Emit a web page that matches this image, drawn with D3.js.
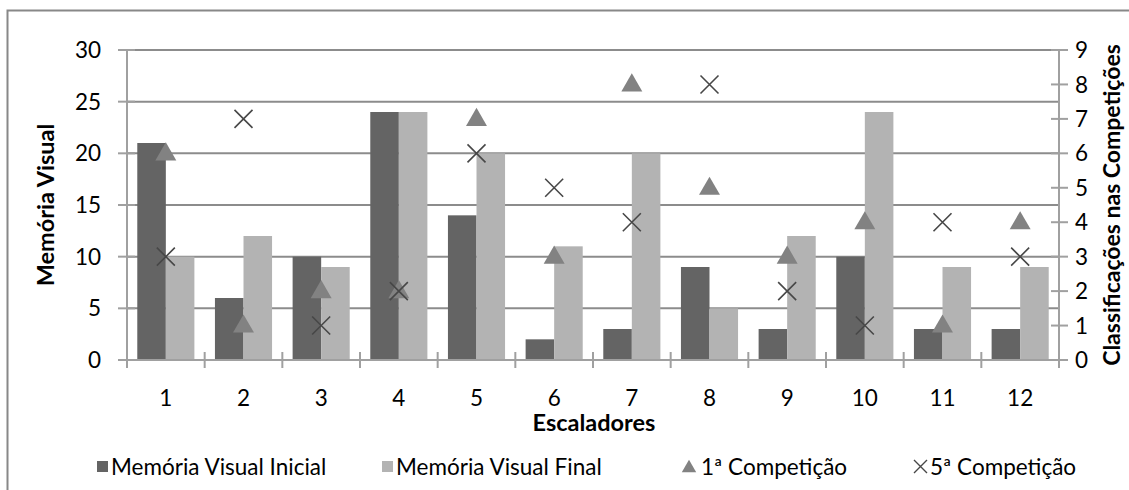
<!DOCTYPE html>
<html>
<head>
<meta charset="utf-8">
<script src="https://cdn.jsdelivr.net/npm/d3@7"></script>
<style>
  html, body { margin: 0; padding: 0; background: #fff; }
  svg { display: block; }
  text { font-family: Lato, "Open Sans", sans-serif; fill: #000; }
</style>
</head>
<body>
<svg id="chart" width="1129" height="490"></svg>
<script>
// Escaladores e respetivos resultados
const escaladores = ["1", "2", "3", "4", "5", "6", "7", "8", "9", "10", "11", "12"];
const memoriaInicial = [21, 6, 10, 24, 14, 2, 3, 9, 3, 10, 3, 3];
const memoriaFinal = [10, 12, 9, 24, 20, 11, 20, 5, 12, 24, 9, 9];
const competicao1 = [6, 1, 2, 2, 7, 3, 8, 5, 3, 4, 1, 4];
const competicao5 = [3, 7, 1, 2, 6, 5, 4, 8, 2, 1, 4, 3];
const leftTicks = [0, 5, 10, 15, 20, 25, 30];
const rightTicks = [0, 1, 2, 3, 4, 5, 6, 7, 8, 9];

const svg = d3.select("#chart");
const plot = { left: 127, right: 1059, top: 50, bottom: 360 };
const fs = "22.5px";

const colInicial = "#646464", colFinal = "#b3b3b3", colTri = "#828282", colX = "#474747";
const gridCol = "#8c8c8c", axisCol = "#a0a0a0";

// outer chart border
svg.append("rect").attr("x", 7.5).attr("y", 10.5).attr("width", 1140).attr("height", 500)
  .attr("fill", "none").attr("stroke", "#888").attr("stroke-width", 2);

const x = d3.scaleBand().domain(escaladores).range([plot.left, plot.right]);
const inner = d3.scaleBand().domain(["i", "f"]).range([0, x.bandwidth()]).paddingOuter(0.36).paddingInner(0);
const yL = d3.scaleLinear().domain([0, 30]).range([plot.bottom, plot.top]);
const yR = d3.scaleLinear().domain([0, 9]).range([plot.bottom, plot.top]);

// gridlines
svg.append("g").selectAll("line").data(leftTicks.filter(d => d > 0)).join("line")
  .attr("x1", plot.left).attr("x2", plot.right)
  .attr("y1", d => yL(d)).attr("y2", d => yL(d))
  .attr("stroke", gridCol).attr("stroke-width", 2);

// bars
const bars = svg.append("g");
bars.selectAll("rect.ini").data(memoriaInicial).join("rect")
  .attr("x", (d, i) => x(escaladores[i]) + inner("i"))
  .attr("y", d => yL(d)).attr("width", inner.bandwidth())
  .attr("height", d => yL(0) - yL(d)).attr("fill", colInicial);
bars.selectAll("rect.fin").data(memoriaFinal).join("rect")
  .attr("x", (d, i) => x(escaladores[i]) + inner("f"))
  .attr("y", d => yL(d)).attr("width", inner.bandwidth())
  .attr("height", d => yL(0) - yL(d)).attr("fill", colFinal);

// axes
const axG = svg.append("g").attr("stroke", axisCol).attr("stroke-width", 2);
axG.append("line").attr("x1", plot.left).attr("x2", plot.left).attr("y1", plot.top).attr("y2", plot.bottom + 8);
axG.append("line").attr("x1", plot.right).attr("x2", plot.right).attr("y1", plot.top).attr("y2", plot.bottom + 8);
axG.append("line").attr("x1", plot.left - 9).attr("x2", plot.right + 9).attr("y1", plot.bottom).attr("y2", plot.bottom);
axG.selectAll("line.lt").data(leftTicks).join("line")
  .attr("x1", plot.left - 9).attr("x2", plot.left + 8).attr("y1", d => yL(d)).attr("y2", d => yL(d));
axG.selectAll("line.rt").data(rightTicks).join("line")
  .attr("x1", plot.right - 8).attr("x2", plot.right + 9).attr("y1", d => yR(d)).attr("y2", d => yR(d));
const bounds = escaladores.map(c => x(c)).concat([plot.right]);
axG.selectAll("line.xt").data(bounds).join("line")
  .attr("x1", d => d).attr("x2", d => d).attr("y1", plot.bottom - 8).attr("y2", plot.bottom + 8);

// tick labels
svg.append("g").selectAll("text").data(leftTicks).join("text")
  .attr("x", 101).attr("y", d => yL(d)).attr("dy", "0.36em")
  .attr("text-anchor", "end").style("font-size", fs).text(d => d);
svg.append("g").selectAll("text").data(rightTicks).join("text")
  .attr("x", 1075).attr("y", d => yR(d)).attr("dy", "0.36em")
  .attr("text-anchor", "start").style("font-size", fs).text(d => d);
svg.append("g").selectAll("text").data(escaladores).join("text")
  .attr("x", d => x(d) + x.bandwidth() / 2).attr("y", 398).attr("dy", "0.36em")
  .attr("text-anchor", "middle").style("font-size", fs).text(d => d);

// axis titles
svg.append("text").attr("x", 594).attr("y", 423).attr("dy", "0.36em")
  .attr("text-anchor", "middle").style("font-size", "23.5px").style("font-weight", "bold").text("Escaladores");
svg.append("text").attr("transform", "translate(46," + (plot.top + plot.bottom) / 2 + ") rotate(-90)")
  .attr("dy", "0.36em").attr("text-anchor", "middle").style("font-size", "23.5px").style("font-weight", "bold")
  .text("Memória Visual");
svg.append("text").attr("transform", "translate(1112," + ((plot.top + plot.bottom) / 2) + ") rotate(-90)")
  .attr("dy", "0.36em").attr("text-anchor", "middle").style("font-size", "23px").style("font-weight", "bold")
  .text("Classificações nas Competições");

// markers
const tri = d3.symbol().type(d3.symbolTriangle).size(190);
svg.append("g").selectAll("path").data(competicao1).join("path")
  .attr("d", tri)
  .attr("transform", (d, i) => `translate(${x(escaladores[i]) + x.bandwidth() / 2},${yR(d) + 1})`)
  .attr("fill", colTri);
const xs = 9;
const xg = svg.append("g").attr("stroke", colX).attr("stroke-width", 1.6);
competicao5.forEach((d, i) => {
  const cx = x(escaladores[i]) + x.bandwidth() / 2, cy = yR(d);
  xg.append("path").attr("d", `M${cx - xs},${cy - xs}L${cx + xs},${cy + xs}M${cx - xs},${cy + xs}L${cx + xs},${cy - xs}`);
});

// legend
const leg = svg.append("g");
const legY = 467;
leg.append("rect").attr("x", 97).attr("y", legY - 6).attr("width", 11).attr("height", 11).attr("fill", colInicial);
leg.append("text").attr("x", 111).attr("y", legY).attr("dy", "0.36em").style("font-size", fs).text("Memória Visual Inicial");
leg.append("rect").attr("x", 382).attr("y", legY - 6).attr("width", 11).attr("height", 11).attr("fill", colFinal);
leg.append("text").attr("x", 396).attr("y", legY).attr("dy", "0.36em").style("font-size", fs).text("Memória Visual Final");
leg.append("path").attr("d", d3.symbol().type(d3.symbolTriangle).size(90))
  .attr("transform", `translate(689,${legY + 1})`).attr("fill", colTri);
leg.append("text").attr("x", 701).attr("y", legY).attr("dy", "0.36em").style("font-size", fs).text("1ª Competição");
leg.append("path").attr("d", `M914,${legY - 7}L927,${legY + 6}M914,${legY + 6}L927,${legY - 7}`)
  .attr("stroke", colX).attr("stroke-width", 1.4);
leg.append("text").attr("x", 930).attr("y", legY).attr("dy", "0.36em").style("font-size", fs).text("5ª Competição");
</script>
</body>
</html>
